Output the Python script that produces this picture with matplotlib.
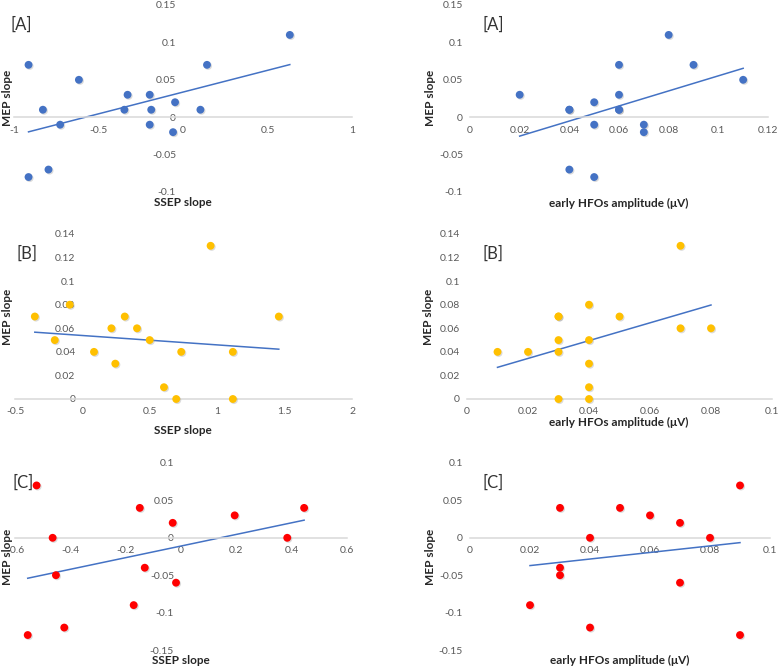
import numpy as np
import matplotlib.pyplot as plt
import matplotlib.patheffects as pe
from matplotlib.ticker import FuncFormatter, MultipleLocator

plt.rcParams['font.family'] = ['Lato', 'DejaVu Sans']

# [A] blue, SSEP slope vs MEP slope
a_ssep = [-0.914, 0.632, 0.142, -0.616, -0.829, -0.727, -0.328, -0.197,
          -0.347, -0.188, -0.047, 0.103, -0.197, -0.059, -0.914, -0.796]
a_mep_l = [0.07, 0.11, 0.07, 0.05, 0.01, -0.01, 0.03, 0.03,
           0.01, 0.01, 0.02, 0.01, -0.01, -0.02, -0.08, -0.07]
# [A] blue, early HFOs amplitude vs MEP slope
a_hfo = [0.02, 0.04, 0.04, 0.05, 0.05, 0.06, 0.06, 0.06,
         0.06, 0.07, 0.07, 0.08, 0.09, 0.11, 0.04, 0.05]
a_mep_r = [0.03, 0.01, 0.01, 0.02, -0.01, 0.07, 0.03, 0.01,
           0.01, -0.01, -0.02, 0.11, 0.07, 0.05, -0.07, -0.08]

# [B] orange
b_ssep = [-0.353, -0.205, -0.094, 0.086, 0.215, 0.244, 0.314, 0.405,
          0.499, 0.605, 0.696, 0.733, 0.951, 1.116, 1.116, 1.457]
b_mep_l = [0.07, 0.05, 0.08, 0.04, 0.06, 0.03, 0.07, 0.06,
           0.05, 0.01, 0.0, 0.04, 0.13, 0.04, 0.0, 0.07]
b_hfo = [0.01, 0.02, 0.03, 0.03, 0.03, 0.03, 0.03, 0.04,
         0.04, 0.04, 0.04, 0.04, 0.05, 0.07, 0.07, 0.08]
b_mep_r = [0.04, 0.04, 0.0, 0.04, 0.05, 0.07, 0.07, 0.08,
           0.05, 0.03, 0.01, 0.0, 0.07, 0.13, 0.06, 0.06]

# [C] red
c_ssep = [-0.522, -0.464, -0.452, -0.149, -0.030, 0.194, 0.384, 0.445,
          -0.131, -0.018, -0.171, -0.422, -0.554]
c_mep_l = [0.07, 0.0, -0.05, 0.04, 0.02, 0.03, 0.0, 0.04,
           -0.04, -0.06, -0.09, -0.12, -0.13]
c_hfo = [0.02, 0.03, 0.03, 0.03, 0.04, 0.04, 0.05, 0.06,
         0.07, 0.07, 0.08, 0.09, 0.09]
c_mep_r = [-0.09, 0.04, -0.04, -0.05, 0.0, -0.12, 0.04, 0.03,
           0.02, -0.06, 0.0, 0.07, -0.13]

W, H = 778, 669
fig = plt.figure(figsize=(W / 100, H / 100), dpi=100)


def add_axes(l, t, r, b):
    return fig.add_axes([l / W, 1 - b / H, (r - l) / W, (b - t) / H])


# pixel boxes (left, top, right, bottom), limits, steps
panels = [
    ((14, 5, 352, 192), a_ssep, a_mep_l, '#4472C4', (-1, 1), 0.5, (-0.1, 0.15), 0.05),
    ((470, 5, 768, 192), a_hfo, a_mep_r, '#4472C4', (0, 0.12), 0.02, (-0.1, 0.15), 0.05),
    ((15, 234, 352, 399), b_ssep, b_mep_l, '#FFC000', (-0.5, 2), 0.5, (0, 0.14), 0.02),
    ((467, 234, 772, 399), b_hfo, b_mep_r, '#FFC000', (0, 0.1), 0.02, (0, 0.14), 0.02),
    ((15, 463, 347, 650), c_ssep, c_mep_l, '#FF0000', (-0.6, 0.6), 0.2, (-0.15, 0.1), 0.05),
    ((470, 463, 770, 650), c_hfo, c_mep_r, '#FF0000', (0, 0.1), 0.02, (-0.15, 0.1), 0.05),
]

fmt = FuncFormatter(lambda v, p: '%g' % round(v, 6))
shadow = [pe.SimplePatchShadow(offset=(0.8, -0.8), shadow_rgbFace='#999999', alpha=0.35),
          pe.Normal()]

for box, xs, ys, col, xl, xst, yl, yst in panels:
    ax = add_axes(*box)
    ax.patch.set_alpha(0)
    xs = np.array(xs)
    ys = np.array(ys)
    sc = ax.scatter(xs, ys, s=32, color=col, zorder=3, clip_on=False, linewidths=0)
    sc.set_path_effects(shadow)
    # linear trend line
    k, c = np.polyfit(xs, ys, 1)
    fx = np.array([xs.min(), xs.max()])
    ax.plot(fx, k * fx + c, color='#4472C4', lw=1.1, zorder=2)
    ax.set_xlim(*xl)
    ax.set_ylim(*yl)
    ax.xaxis.set_major_locator(MultipleLocator(xst))
    ax.yaxis.set_major_locator(MultipleLocator(yst))
    ax.xaxis.set_major_formatter(fmt)
    ax.yaxis.set_major_formatter(fmt)
    for s in ('top', 'right'):
        ax.spines[s].set_visible(False)
    ax.spines['bottom'].set_position(('data', 0))
    ax.spines['bottom'].set_color('#D9D9D9')
    ax.spines['bottom'].set_linewidth(1.1)
    ax.spines['left'].set_position(('data', 0))
    ax.spines['left'].set_color('none')
    ax.tick_params(length=0, labelsize=7.5, labelcolor='#595959')
    ax.tick_params(axis='x', pad=6)
    ax.tick_params(axis='y', pad=5)

# axis titles (pixel centres)
ylab_pos = [(8, 98), (430, 98), (8, 317), (429, 317), (8, 557), (430, 557)]
xlab_pos = [(183, 202), (619, 203), (183, 431), (619, 422), (181, 661), (620, 660)]
xlab_txt = ['SSEP slope', 'early HFOs amplitude (μV)'] * 3
for (x, y) in ylab_pos:
    fig.text(x / W, 1 - y / H, 'MEP slope', rotation=90, ha='center', va='center',
             fontsize=8.5, fontweight='bold', color='#262626')
for (x, y), t in zip(xlab_pos, xlab_txt):
    fig.text(x / W, 1 - y / H, t, ha='center', va='center',
             fontsize=8.5, fontweight='bold', color='#262626')

# panel letters
letters = ['[A]', '[A]', '[B]', '[B]', '[C]', '[C]']
letter_pos = [(10, 25), (482, 25), (17, 254), (482, 254), (12, 483), (482, 483)]
for (x, y), t in zip(letter_pos, letters):
    fig.text(x / W, 1 - y / H, t, ha='left', va='center', fontsize=12, color='#333333')

fig.savefig('out.png', dpi=100)
